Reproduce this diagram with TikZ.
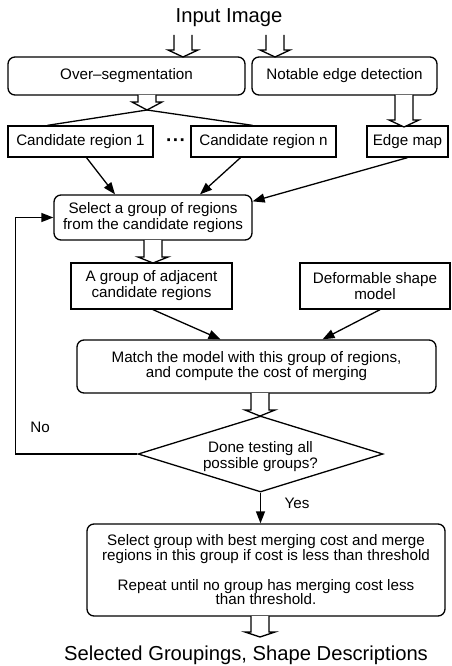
\documentclass[tikz,border=0pt]{standalone}
\usepackage{fontspec}
\setmainfont{Liberation Sans}
\usetikzlibrary{arrows.meta,shapes.geometric,calc}
\tikzset{
  box/.style={draw,rectangle,line width=1.3pt,inner sep=2pt,align=center,font=\fontsize{15.2}{16}\selectfont},
  rbox/.style={box,rounded corners=7pt},
  lbl/.style={font=\fontsize{15.2}{16}\selectfont,inner sep=0pt},
  big/.style={font=\fontsize{20.2}{22}\selectfont,inner sep=0pt},
  arr/.style={line width=1.3pt,-{Triangle[length=12pt,width=9pt]}},
  ln/.style={line width=1.3pt},
  hol/.style={draw,line width=1.3pt,fill=white},
}
% hollow arrow: x, top y, head-base y, tip y
\newcommand{\harrow}[4]{%
  \draw[hol] ({#1-9},#2) -- ({#1-9},#3) -- ({#1-15},#3) -- (#1,#4) -- ({#1+15},#3) -- ({#1+9},#3) -- ({#1+9},#2);}
\begin{document}
\begin{tikzpicture}[x=1pt,y=-1pt]
\useasboundingbox (0,0) rectangle (451,666);
\node[big] (in) at (229,18) {Input Image};
\node[rbox,minimum width=237pt,minimum height=38pt] (ovs) at (126.5,76) {Over--segmentation};
\node[rbox,minimum width=185pt,minimum height=38pt] (ned) at (344.5,76) {Notable edge detection};
\node[box,minimum width=145pt,minimum height=31pt] (c1) at (80.5,141.5) {Candidate region 1};
\node[inner sep=0pt,font=\fontsize{19}{20}\bfseries] (dots) at (176,143) {\textperiodcentered\kern0.5pt\textperiodcentered\kern0.5pt\textperiodcentered};
\node[box,minimum width=145pt,minimum height=31pt] (cn) at (263.5,141.5) {Candidate region n};
\node[box,minimum width=81pt,minimum height=31pt] (em) at (407.5,141.5) {Edge map};
\node[rbox,minimum width=198pt,minimum height=45pt] (sel) at (153,217.5) {Select a group of regions\\from the candidate regions};
\node[box,minimum width=161pt,minimum height=46pt] (grp) at (151.5,286) {A group of adjacent\\candidate regions};
\node[box,minimum width=150pt,minimum height=46pt] (def) at (375,286) {Deformable shape\\model};
\node[rbox,minimum width=359pt,minimum height=53pt,font=\fontsize{15.2}{15}\selectfont] (mat) at (256.5,366.5) {Match the model with this group of regions,\\and compute the cost of merging};
\node[box,diamond,aspect=3.2,inner sep=0pt,minimum width=245pt,minimum height=76pt] (dia) at (260.5,454) {};
\node[lbl,align=center] (diat) at (260.5,457) {Done testing all\\possible groups?};
\node[rbox,minimum width=358pt,minimum height=92pt,font=\fontsize{15.2}{14.3}\selectfont] (fin) at (266,570) {Select group with best merging cost and merge\\regions in this group if cost is less than threshold\\[16pt]Repeat until no group has merging cost less\\than threshold.};
\node[big] (out) at (246,655) {Selected Groupings, Shape Descriptions};
\node[lbl] (no) at (40,427) {No};
\node[lbl] (yes) at (297,503) {Yes};
% hollow arrows
\harrow{183}{35}{50}{57}
\harrow{275}{35}{50}{57}
\harrow{147}{95}{102}{110}
\harrow{404}{95}{120}{127}
\harrow{153}{240}{257}{263}
\harrow{260}{393}{410}{416}
\harrow{260}{616}{632}{637}
% split lines
\coordinate (sp) at (147,110);
\draw[ln] (sp) -- ($(c1.north)+(-33,0)$);
\draw[ln] (sp) -- ($(cn.north)+(-11,0)$);
% arrows to select
\draw[arr] ($(c1.south)+(6,0)$) -- ($(sel.north)+(-38,0)$);
\draw[arr] ($(cn.south)+(-23,0)$) -- ($(sel.north)+(47,0)$);
\draw[arr] (em.south) -- ($(sel.north east)+(0,7)$);
% arrows to match
\draw[arr] ($(grp.south)+(1.5,0)$) -- ($(mat.north)+(-36,0)$);
\draw[arr] ($(def.south)+(5,0)$) -- ($(mat.north)+(66,0)$);
% yes
\draw[arr] (dia.south) -- (dia.south |- fin.north);
% no loop
\draw[arr] (dia.west) -- ++(-122,0) |- (sel.west);
\end{tikzpicture}
\end{document}
